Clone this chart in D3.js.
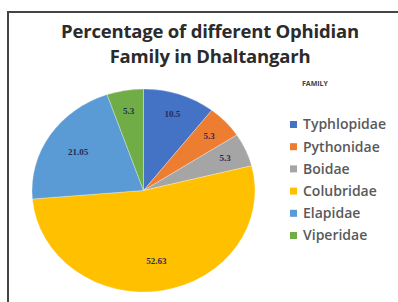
<!DOCTYPE html>
<html>
<head>
<meta charset="utf-8">
<script src="https://cdn.jsdelivr.net/npm/d3@7"></script>
<style>
  body { margin: 0; background: #fff; }
</style>
</head>
<body>
<div id="chart"></div>
<script>
const families = ["Typhlopidae", "Pythonidae", "Boidae", "Colubridae", "Elapidae", "Viperidae"];
const values = [10.5, 5.3, 5.3, 52.63, 21.05, 5.3];
const colors = ["#4472c4", "#ed7d31", "#a5a5a5", "#ffc000", "#5b9bd5", "#70ad47"];
const titleLines = ["Percentage of different Ophidian", "Family in Dhaltangarh"];

const width = 398, height = 302;
const svg = d3.select("#chart")
    .append("svg")
    .attr("width", width)
    .attr("height", height);

// frame (only left / top visible in the crop)
svg.append("rect")
    .attr("x", 8)
    .attr("y", 12)
    .attr("width", 420)
    .attr("height", 320)
    .attr("fill", "none")
    .attr("stroke", "#444")
    .attr("stroke-width", 2);

svg.append("g")
    .selectAll("text")
    .data(titleLines)
    .join("text")
    .attr("x", 210)
    .attr("y", (d, i) => 38 + i * 25)
    .attr("text-anchor", "middle")
    .attr("font-family", "Open Sans, sans-serif")
    .attr("font-weight", 700)
    .attr("font-size", 18.5)
    .attr("letter-spacing", -0.2)
    .attr("fill", "#2b2b2b")
    .text(d => d);

const color = d3.scaleOrdinal().domain(families).range(colors);
const data = families.map((f, i) => ({ name: f, value: values[i] }));

const cx = 143.5, cy = 190.5, rx = 111.5, ry = 101.5;
const pie = d3.pie().sort(null).value(d => d.value);
const arcs = pie(data);
const arc = d3.arc().innerRadius(0).outerRadius(rx);

svg.append("g")
    .attr("transform", `translate(${cx},${cy}) scale(1,${ry / rx})`)
    .selectAll("path")
    .data(arcs)
    .join("path")
    .attr("d", arc)
    .attr("fill", d => color(d.data.name))
    .attr("stroke", "#fff")
    .attr("stroke-opacity", 0.5)
    .attr("stroke-width", 0.6);

// small slices sit further out than the big ones
const labelArc = d => d3.arc().innerRadius(0).outerRadius(rx * (d.value > 20 ? 1.4 : 1.6));
svg.append("g")
    .attr("font-family", "Liberation Serif, serif")
    .attr("font-weight", 700)
    .attr("font-size", 9)
    .attr("fill", "#1f2d55")
    .attr("text-anchor", "middle")
    .selectAll("text")
    .data(arcs)
    .join("text")
    .attr("x", d => cx + labelArc(d).centroid(d)[0])
    .attr("y", d => cy + labelArc(d).centroid(d)[1] * ry / rx)
    .attr("dy", "0.35em")
    .text(d => d.data.value);

// legend
svg.append("text")
    .attr("x", 315)
    .attr("y", 86)
    .attr("text-anchor", "middle")
    .attr("font-family", "Open Sans, sans-serif")
    .attr("font-weight", 700)
    .attr("font-size", 7)
    .attr("fill", "#404040")
    .text("FAMILY");

const legend = svg.append("g")
    .selectAll("g")
    .data(families)
    .join("g")
    .attr("transform", (d, i) => `translate(290, ${124.5 + i * 22.2})`);
legend.append("rect")
    .attr("x", 0)
    .attr("y", -3.5)
    .attr("width", 7)
    .attr("height", 7)
    .attr("fill", d => color(d));
legend.append("text")
    .attr("x", 13)
    .attr("dy", "0.35em")
    .attr("font-family", "Open Sans, sans-serif")
    .attr("font-weight", 600)
    .attr("font-size", 14)
    .attr("fill", "#595959")
    .text(d => d);
</script>
</body>
</html>
